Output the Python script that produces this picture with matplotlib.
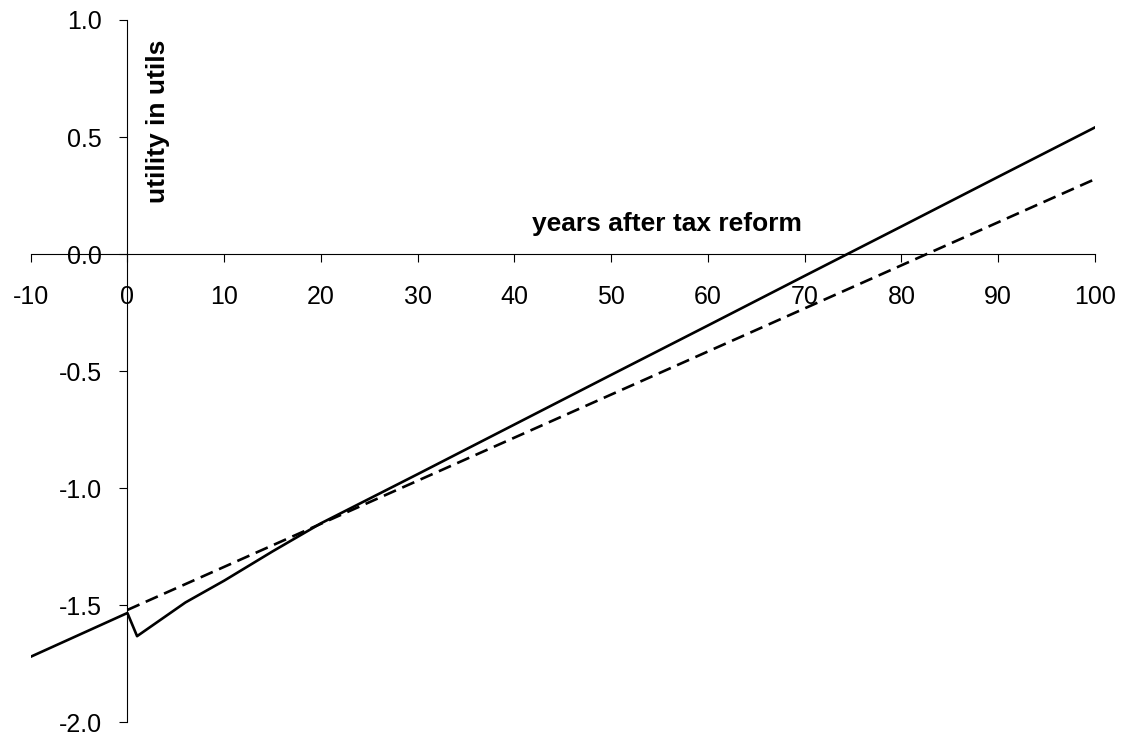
import matplotlib
matplotlib.use("Agg")
import matplotlib.pyplot as plt

plt.rcParams['font.family'] = ['Liberation Sans', 'DejaVu Sans']

# Pfad mit Steuerreform (durchgezogen)
years_reform = [-10, 0, 1, 6, 10, 15, 20, 30, 40, 50, 60, 70, 80, 90, 100]
utility_reform = [-1.72, -1.533, -1.632, -1.488, -1.395, -1.27, -1.15, -0.94,
                  -0.728, -0.516, -0.305, -0.093, 0.118, 0.330, 0.541]

# Pfad ohne Reform (gestrichelt)
years_base = [0, 100]
utility_base = [-1.52, 0.32]

xticks = [-10, 0, 10, 20, 30, 40, 50, 60, 70, 80, 90, 100]
yticks = [-2.0, -1.5, -1.0, -0.5, 0.0, 0.5, 1.0]

fig = plt.figure(figsize=(11.31, 7.40), dpi=100)
ax = fig.add_axes([0.0271, 0.0239, 0.9410, 0.9491])

ax.plot(years_reform, utility_reform, color='black', linewidth=1.9)
ax.plot(years_base, utility_base, color='black', linewidth=1.9,
        linestyle=(0, (5, 2.6)))

ax.set_xlim(-10, 100)
ax.set_ylim(-2.0, 1.0)

# Achsen kreuzen sich im Ursprung
ax.spines['left'].set_position(('data', 0))
ax.spines['bottom'].set_position(('data', 0))
ax.spines['right'].set_visible(False)
ax.spines['top'].set_visible(False)
for s in ('left', 'bottom'):
    ax.spines[s].set_linewidth(0.8)

ax.set_xticks(xticks)
ax.set_xticklabels([str(t) for t in xticks])
ax.set_yticks(yticks)
ax.set_yticklabels([f"{t:.1f}" for t in yticks])
ax.tick_params(axis='x', direction='out', length=5.5, width=0.8, pad=17,
               labelsize=18)
ax.tick_params(axis='y', direction='out', length=5.5, width=0.8, pad=13,
               labelsize=18)

ax.text(0.5976, 0.7095, 'years after tax reform', transform=ax.transAxes,
        ha='center', va='center', fontsize=19, fontweight='bold')
ax.text(0.1196, 0.856, 'utility in utils', transform=ax.transAxes,
        ha='center', va='center', rotation=90, fontsize=19,
        fontweight='bold')

plt.savefig('out.png', dpi=100)
